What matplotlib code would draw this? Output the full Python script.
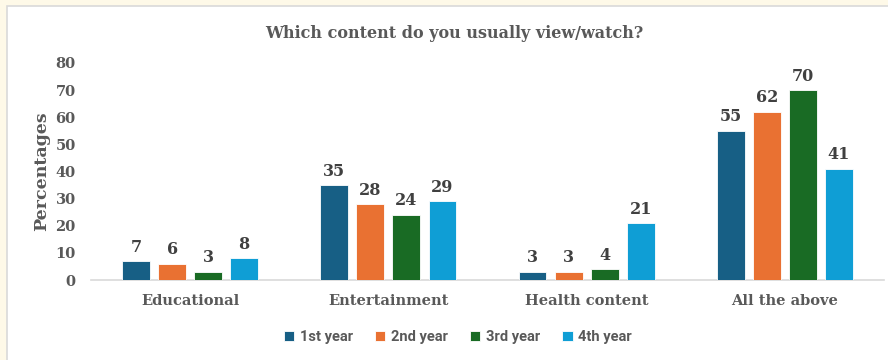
import matplotlib.pyplot as plt
import numpy as np
from matplotlib.patches import Rectangle

# survey results: share of students per content type, by year of study
categories = ["Educational", "Entertainment", "Health content", "All the above"]
years = ["1st year", "2nd year", "3rd year", "4th year"]
first_year = [7, 35, 3, 55]
second_year = [6, 28, 3, 62]
third_year = [3, 24, 4, 70]
fourth_year = [8, 29, 21, 41]

colors = ["#175F85", "#E97132", "#196B24", "#0F9ED5"]
serif = "DejaVu Serif"
gray = "#595959"

fig = plt.figure(figsize=(8.88, 3.6), dpi=100)
fig.patch.set_facecolor("#FEF9E8")
# white chart area with thin border, kept behind the axes
fig.patches.append(Rectangle((7 / 888, -0.01), 1.0, 1 - 6 / 360 + 0.01,
                             transform=fig.transFigure, facecolor="white",
                             edgecolor="#D9D9D9", linewidth=1.2, zorder=-10))

ax = fig.add_axes([91 / 888, 1 - 280 / 360, 793 / 888, (280 - 63) / 360])
ax.set_facecolor("none")

x = np.arange(len(categories))
width = 0.141
step = 0.182
series = [first_year, second_year, third_year, fourth_year]
for i, vals in enumerate(series):
    pos = x + (i - 1.5) * step
    bars = ax.bar(pos, vals, width, color=colors[i], label=years[i],
                  edgecolor="white", linewidth=0.6, zorder=3)
    for b, v in zip(bars, vals):
        ax.text(b.get_x() + b.get_width() / 2, v + 2.0, str(v), ha="center",
                va="bottom", fontsize=11.5, fontweight="bold", color="#404040",
                family=serif)

ax.set_xlim(-0.5, len(categories) - 0.5)
ax.set_ylim(0, 80)
ax.set_yticks(range(0, 81, 10))
ax.set_xticks(x)
ax.set_xticklabels(categories)
for lbl in ax.get_xticklabels() + ax.get_yticklabels():
    lbl.set_family(serif)
    lbl.set_fontweight("bold")
    lbl.set_fontsize(10.5)
    lbl.set_color(gray)
ax.tick_params(axis="both", length=0)
ax.tick_params(axis="y", pad=11)
ax.tick_params(axis="x", pad=10)

for side in ["top", "right", "left"]:
    ax.spines[side].set_visible(False)
ax.spines["bottom"].set_color("#D9D9D9")
ax.spines["bottom"].set_linewidth(1.2)

ax.set_ylabel("Percentages", family=serif, fontweight="bold", fontsize=12.5,
              color=gray)
ax.yaxis.set_label_coords(-0.052, 0.5)

fig.text(0.512, 1 - 33 / 360, "Which content do you usually view/watch?",
         ha="center", va="center", family=serif, fontweight="bold",
         fontsize=11.5, color=gray)

leg = fig.legend(loc="center", bbox_to_anchor=(0.516, 1 - 337 / 360), ncol=4,
                 frameon=False, handlelength=0.7, handleheight=0.7,
                 handletextpad=0.4, columnspacing=1.5,
                 prop={"family": "Roboto", "weight": "bold", "size": 10.5})
for t in leg.get_texts():
    t.set_color(gray)

fig.savefig("out.png", dpi=100, facecolor=fig.get_facecolor())
